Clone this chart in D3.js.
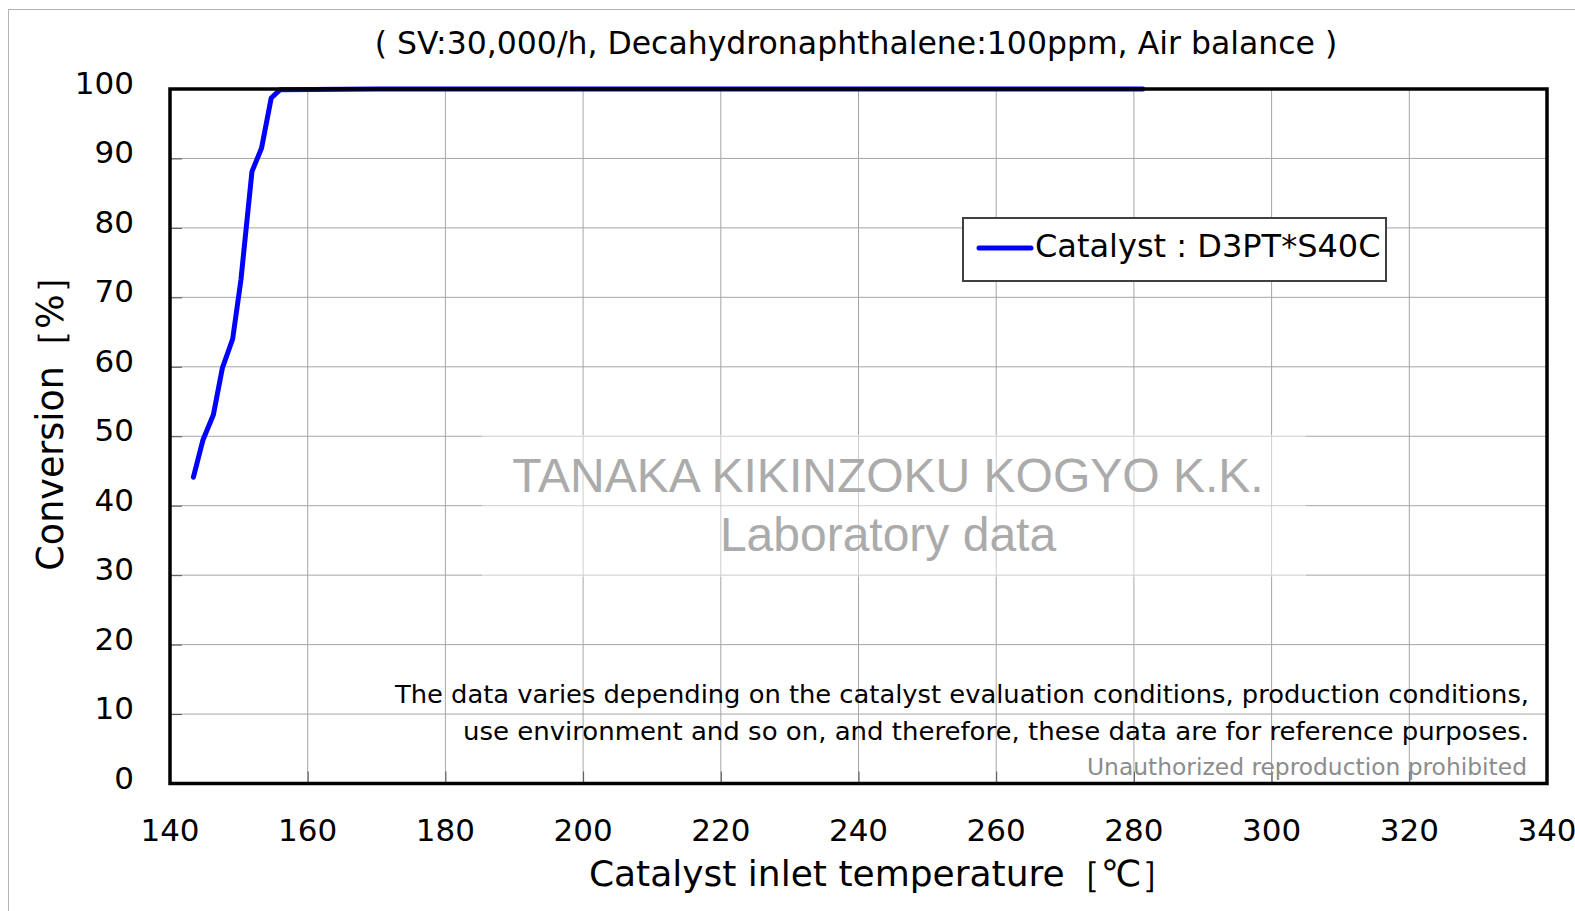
<!DOCTYPE html>
<html>
<script src="https://d3js.org/d3.v7.min.js"></script>
<style>
    body { margin: 0; background: #fff; }
    text { font-family: "DejaVu Sans", Verdana, sans-serif; }
</style>

<body>
    <script>
        var width = 1575;
        var height = 911;

        // conversion curve
        var temps = [143.4, 144.8, 146.3, 147.6, 149.1, 150.3, 151.9, 153.3, 154.7, 156.0, 170, 200, 240, 281.3];
        var conversion = [44.1, 49.5, 53.1, 59.8, 64.0, 72.5, 88.1, 91.5, 98.7, 99.9, 100, 100, 100, 100];
        var xTicks = [140, 160, 180, 200, 220, 240, 260, 280, 300, 320, 340];
        var yTicks = [0, 10, 20, 30, 40, 50, 60, 70, 80, 90, 100];
        var seriesName = "Catalyst : D3PT*S40C";

        var svg = d3.select("body").append("svg")
            .attr("width", width)
            .attr("height", height);

        // outer light frame (only top/left visible)
        svg.append("rect")
            .attr("x", 8.5).attr("y", 9.5)
            .attr("width", width + 20).attr("height", height + 20)
            .attr("fill", "#fff").attr("stroke", "#b4b4b4").attr("stroke-width", 1);

        var x = d3.scaleLinear().domain([140, 340]).range([170, 1547]);
        var y = d3.scaleLinear().domain([0, 100]).range([783.5, 89]);

        // grid
        var grid = svg.append("g");
        grid.selectAll(".vg").data(xTicks).enter().append("line")
            .attr("x1", d => x(d)).attr("x2", d => x(d))
            .attr("y1", y(0)).attr("y2", y(100))
            .attr("stroke", "#a6a6a6").attr("stroke-width", 1);
        grid.selectAll(".hg").data(yTicks).enter().append("line")
            .attr("x1", x(140)).attr("x2", x(340))
            .attr("y1", d => y(d)).attr("y2", d => y(d))
            .attr("stroke", "#a6a6a6").attr("stroke-width", 1);

        // faded box behind watermark
        svg.append("rect")
            .attr("x", 482).attr("y", 435).attr("width", 824).attr("height", 142)
            .attr("fill", "#fff").attr("opacity", 0.45);

        // inside ticks
        var yAxis = d3.axisRight(y).tickValues(yTicks).tickSize(12).tickFormat("");
        svg.append("g").attr("transform", `translate(${x(140)},0)`).call(yAxis)
            .call(g => g.select(".domain").remove())
            .selectAll("line").attr("stroke", "#555");
        var xAxis = d3.axisTop(x).tickValues(xTicks).tickSize(12).tickFormat("");
        svg.append("g").attr("transform", `translate(0,${y(0)})`).call(xAxis)
            .call(g => g.select(".domain").remove())
            .selectAll("line").attr("stroke", "#555");

        // watermark
        svg.append("text").attr("x", 888).attr("y", 492)
            .attr("text-anchor", "middle")
            .style("font-family", "'Liberation Sans', Arial, sans-serif")
            .style("font-size", "48px").attr("fill", "#ababab")
            .text("TANAKA KIKINZOKU KOGYO K.K.");
        svg.append("text").attr("x", 888).attr("y", 551)
            .attr("text-anchor", "middle")
            .style("font-family", "'Liberation Sans', Arial, sans-serif")
            .style("font-size", "48px").attr("fill", "#ababab")
            .text("Laboratory data");

        // notes
        svg.append("text").attr("x", 1529).attr("y", 703)
            .attr("text-anchor", "end").style("font-size", "25px")
            .style("font-stretch", "condensed")
            .attr("textLength", 1134).attr("lengthAdjust", "spacingAndGlyphs")
            .text("The data varies depending on the catalyst evaluation conditions, production conditions,");
        svg.append("text").attr("x", 1529).attr("y", 740)
            .attr("text-anchor", "end").style("font-size", "25px")
            .style("font-stretch", "condensed")
            .attr("textLength", 1066).attr("lengthAdjust", "spacingAndGlyphs")
            .text("use environment and so on, and therefore, these data are for reference purposes.");
        svg.append("text").attr("x", 1527).attr("y", 775)
            .attr("text-anchor", "end").style("font-size", "23px")
            .style("font-stretch", "condensed").attr("fill", "#8c8c8c")
            .attr("textLength", 440).attr("lengthAdjust", "spacingAndGlyphs")
            .text("Unauthorized reproduction prohibited");

        // series line
        var pts = temps.map((t, i) => [t, conversion[i]]);
        svg.append("path").datum(pts)
            .attr("fill", "none").attr("stroke", "#0000ff").attr("stroke-width", 5)
            .attr("stroke-linejoin", "round").attr("stroke-linecap", "round")
            .attr("d", d3.line().x(d => x(d[0])).y(d => y(d[1])));

        // plot frame
        svg.append("rect")
            .attr("x", x(140)).attr("y", y(100))
            .attr("width", x(340) - x(140)).attr("height", y(0) - y(100))
            .attr("fill", "none").attr("stroke", "#000").attr("stroke-width", 3.5);

        // tick labels
        svg.selectAll(".yl").data(yTicks).enter().append("text")
            .attr("x", 134).attr("y", d => y(d) + 5)
            .attr("text-anchor", "end").style("font-size", "31px")
            .text(d => d);
        svg.selectAll(".xl").data(xTicks).enter().append("text")
            .attr("x", d => x(d)).attr("y", 841)
            .attr("text-anchor", "middle").style("font-size", "31px")
            .text(d => d);

        // titles
        svg.append("text").attr("x", 856).attr("y", 54)
            .attr("text-anchor", "middle").style("font-size", "31.5px")
            .text("( SV:30,000/h, Decahydronaphthalene:100ppm, Air balance )");
        svg.append("text").attr("x", 883).attr("y", 886)
            .attr("text-anchor", "middle").style("font-size", "36px")
            .text("Catalyst inlet temperature［℃］");
        svg.append("text")
            .attr("transform", "translate(63,414) rotate(-90)")
            .attr("text-anchor", "middle").style("font-size", "36.5px")
            .text("Conversion［%］");

        // legend
        var lg = svg.append("g").attr("transform", "translate(963,218)");
        lg.append("rect").attr("width", 423).attr("height", 63)
            .attr("fill", "#fff").attr("stroke", "#404040").attr("stroke-width", 2);
        lg.append("line").attr("x1", 16).attr("x2", 68).attr("y1", 30).attr("y2", 30)
            .attr("stroke", "#0000ff").attr("stroke-width", 5).attr("stroke-linecap", "round");
        lg.append("text").attr("x", 72).attr("y", 39).style("font-size", "32px")
            .text(seriesName);
    </script>
</body>

</html>
